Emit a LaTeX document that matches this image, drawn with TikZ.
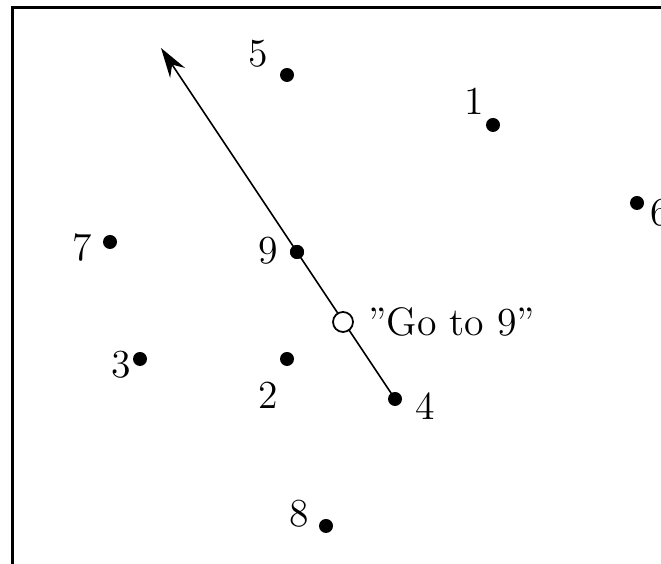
\documentclass[tikz,border=0pt]{standalone}
\usepackage{tikz}
\usetikzlibrary{arrows.meta, positioning}

\begin{document}
\begin{tikzpicture}[
  font=\fontsize{11.3}{13}\selectfont,
  dot/.style={circle, fill=black, inner sep=0pt, minimum size=0.14cm},
  hollow/.style={circle, draw=black, fill=white, inner sep=0pt, minimum size=0.2cm, line width=0.5pt},
  frame/.style={draw=black, line width=0.6pt},
  arr/.style={-{Stealth[length=3mm, width=1.8mm, inset=1mm]}, line width=0.45pt},
  lbl/.style={inner sep=1pt}
]
\path[use as bounding box, clip] (0,0) rectangle (6.61,5.64);
\draw[frame] (0.125,-1) rectangle (8,5.565);
% points with their numbers
\foreach \n/\x/\y/\lx/\ly in {5/2.87/4.89/-0.29/0.21, 1/4.93/4.39/-0.19/0.24,
    6/6.37/3.61/0.23/-0.10, 7/1.10/3.22/-0.28/-0.06, 9/2.97/3.12/-0.29/0.01,
    3/1.40/2.05/-0.19/-0.06, 2/2.87/2.05/-0.19/-0.36, 4/3.95/1.65/0.30/-0.07,
    8/3.26/0.38/-0.27/0.12} {
  \node[dot] (p\n) at (\x,\y) {};
  \node[lbl] (l\n) at (\x+\lx,\y+\ly) {\n};
}
\coordinate (tip) at (1.61,5.16);
\draw[arr] (p4.center) -- (tip);
\node[dot] (p9b) at (p9) {};
\node[hollow] (go) at (3.43,2.42) {};
\node[right=0.02cm of go] (golbl) {''Go to 9''};
\end{tikzpicture}
\end{document}
